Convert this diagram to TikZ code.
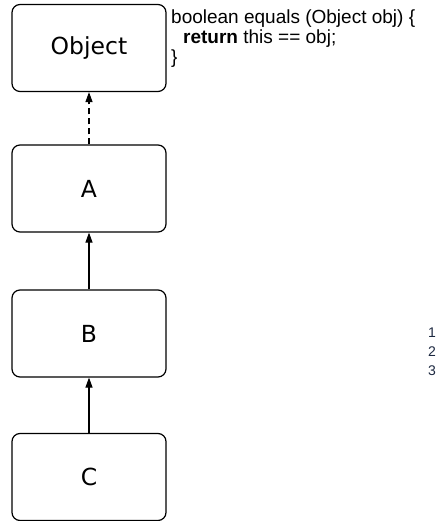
\documentclass[tikz,border=0pt]{standalone}
\usepackage{fontspec}
\setmainfont{Liberation Sans}
\newfontfamily\boxfont{DejaVu Sans}
\usetikzlibrary{arrows.meta,positioning}
\definecolor{numblue}{RGB}{28,40,64}
\begin{document}
\begin{tikzpicture}[x=1pt,y=1pt,
    classbox/.style={draw,line width=1.2pt,rounded corners=8pt,minimum width=154pt,minimum height=87pt,font=\boxfont\fontsize{23.5}{28}\selectfont},
    inherit/.style={line width=1.1pt,-{Triangle[length=10pt,width=7pt]}}]
        \useasboundingbox (0,0) rectangle (437,521);
        %% classes
        \node[classbox] (obj) at (89,473) {Object};
        \node[classbox] (a) at (89,332.5) {A};
        \node[classbox] (b) at (89,187.5) {B};
        \node[classbox] (c) at (89,44) {C};
        %% inheritance
        \draw[inherit,dash pattern=on 6pt off 4pt] (a.north) -- (obj.south);
        \draw[inherit] (b.north) -- (a.south);
        \draw[inherit] (c.north) -- (b.south);
        %% method
        \node[anchor=north west,align=left,inner sep=0pt,font=\fontsize{19}{20}\selectfont] (code) at (171,511)
            {boolean equals (Object obj) \{\\\hspace*{12pt}\textbf{return} this == obj;\\\}};
        %% line numbers
        \node[anchor=north west,align=left,inner sep=0pt,text=numblue,font=\fontsize{14}{19}\selectfont] (nums) at (428,193) {1\\2\\3};
    \end{tikzpicture}
\end{document}
